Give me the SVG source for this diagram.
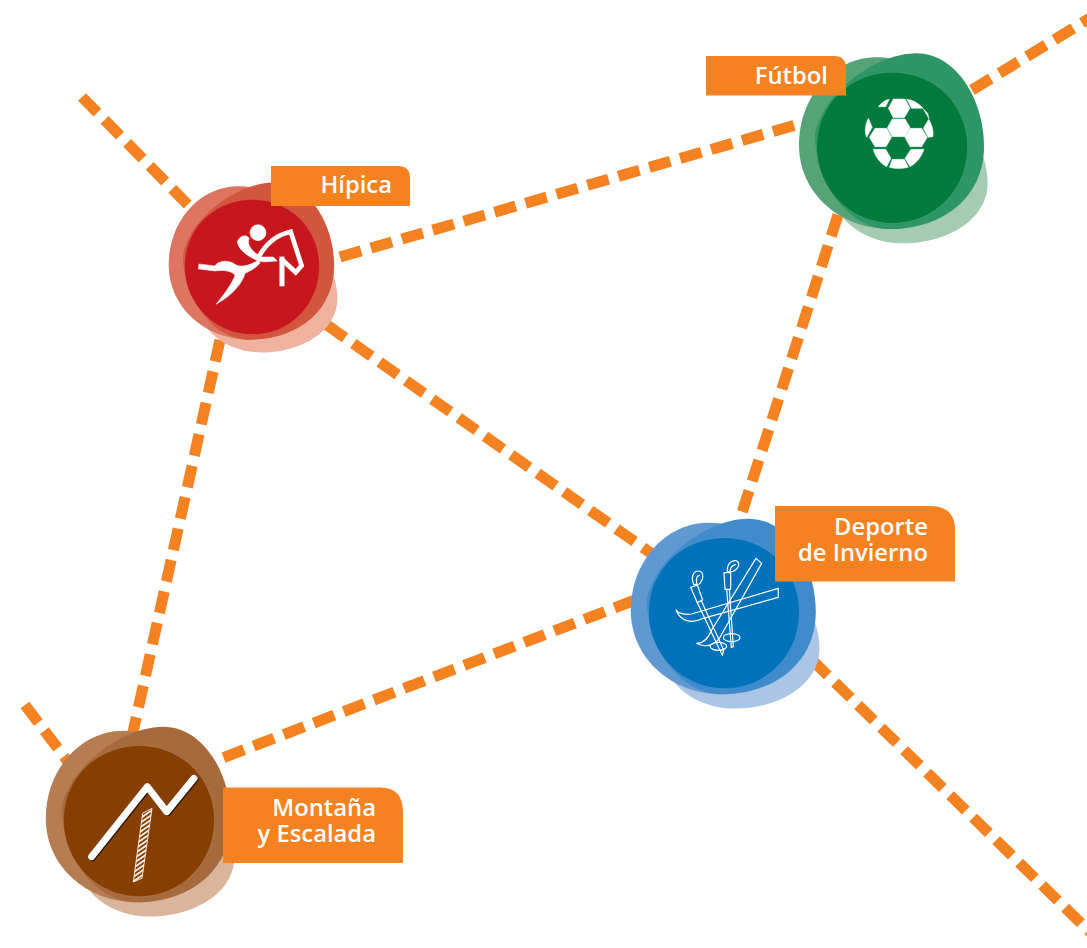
<svg xmlns="http://www.w3.org/2000/svg" width="1087" height="948" viewBox="0 0 1087 948">
<style>
.conn{stroke:#f58220;stroke-width:11;stroke-dasharray:22 10.200;fill:none}
.tag{fill:#f58220}
.lbl{font-family:"Open Sans","Noto Sans",sans-serif;font-weight:600;font-size:23.8px;fill:#fff;text-anchor:end}
.edge{fill:none;stroke:#fff;stroke-opacity:.22;stroke-width:1.5}
.ln{fill:none;stroke:#fff;stroke-width:3.6;stroke-linejoin:round;stroke-linecap:round}
.w{fill:#fff;stroke:#fff;stroke-width:1.500}
</style>
<defs>
<path id="blobC" d="M350,320C350,195 450,97 578,97C720,97 863,290 863,430C863,540 740,610 610,610C540,610 480,585 440,545C390,490 350,400 350,320Z"/>
<path id="blobA" d="M297,315C297,170 400,52 530,52C680,52 850,170 850,320C850,470 700,567 570,567C420,567 297,460 297,315Z"/>
<path id="blobB" d="M345,285C360,170 520,40 650,40C765,40 852,175 852,320C852,470 730,567 570,567C440,567 345,420 345,285Z"/>
<path id="blobD" d="M350,320C350,195 450,97 578,97C705,97 803,195 803,322C803,447 705,550 578,550C450,550 350,445 350,320Z"/>
<pattern id="hatch" patternUnits="userSpaceOnUse" width="11" height="11" patternTransform="rotate(-35)">
<rect x="0" y="0" width="11" height="5" fill="#fff"/>
</pattern>
</defs>
<g id="connectors">
<line class="conn" x1="82" y1="97" x2="197" y2="214"/>
<line class="conn" x1="340" y1="257" x2="806" y2="122"/>
<line class="conn" x1="327" y1="325" x2="655" y2="556"/>
<line class="conn" x1="220" y1="340" x2="133" y2="732"/>
<line class="conn" x1="838" y1="215" x2="738" y2="525"/>
<line class="conn" x1="972" y1="90" x2="1095" y2="15"/>
<line class="conn" x1="635" y1="600" x2="212" y2="762"/>
<line class="conn" x1="812" y1="660" x2="1090" y2="932"/>
<line class="conn" x1="25" y1="705" x2="72" y2="767"/>
</g>
<g id="hipica">
<g transform="translate(80.2 170.7) scale(.298)">
<use href="#blobC" fill="#efb29e"/><use href="#blobA" fill="#dd7560"/><use href="#blobB" fill="#d2553d"/><use href="#blobD" fill="#c8161d"/><use href="#blobD" class="edge"/>
</g>
<g transform="translate(190 215) scale(.3333)">
<circle class="w" cx="204" cy="53" r="24"/>
<path class="w" d="M142,80C150,60 170,58 178,70C168,88 188,112 215,126L250,126L262,138C235,140 215,142 205,138C175,125 145,105 142,80Z"/>
<path class="w" d="M27,147L75,153C85,135 120,135 135,148C150,160 185,150 205,135L210,145C190,165 175,170 165,175C160,200 130,240 78,268C105,235 130,200 135,180C120,165 95,165 75,168L25,162Z"/>
<path d="M205,128C225,90 255,60 302,50L335,152L317,172L272,130" fill="none" stroke="#fff" stroke-width="14"/>
<path d="M276,125V214" fill="none" stroke="#fff" stroke-width="15"/>
</g>
<path class="tag" d="M271,166H398Q410,166 410,178V206H271Z"/>
<text class="lbl" x="392" y="193">Hípica</text>
</g>
<g id="futbol">
<g transform="translate(700 40) scale(.3333)">
<use href="#blobC" fill="#a5ccb2"/><use href="#blobA" fill="#57a378"/><use href="#blobB" fill="#2e9665"/><use href="#blobD" fill="#007a3d"/><use href="#blobD" class="edge"/>
</g>
<g transform="translate(855 90) scale(.3333)" class="w">
<polygon points="115,27 150,27 165,55 148,83 115,83 100,55"/>
<polygon points="112,87 150,87 165,112 150,140 112,140 97,113"/>
<polygon points="60,115 95,115 110,142 93,170 60,170 43,142"/>
<polygon points="165,115 200,115 217,142 200,170 165,170 150,142"/>
<path d="M55,178H92L108,205L95,230C75,220 60,200 55,178Z"/>
<path d="M168,178H207C200,200 185,220 165,230L150,205Z"/>
<path d="M112,208H148L160,232C140,237 120,237 103,232Z"/>
<path d="M40,85L52,112L35,142C28,125 30,105 40,85Z"/>
<path d="M221,88L205,115L220,142L234,140C236,120 230,102 221,88Z"/>
<path d="M70,50H92L103,28C90,30 80,38 70,50Z"/>
<path d="M155,28L170,55H205C190,40 175,30 155,28Z"/>
<path d="M205,57L222,86L218,70Z"/>
</g>
<path class="tag" d="M706,56H834Q846,56 846,68V95.500H706Z"/>
<text class="lbl" x="828" y="84">Fútbol</text>
</g>
<g id="deporte">
<g transform="translate(531.8 505.3) scale(.3333)">
<use href="#blobC" fill="#abc5e6"/><use href="#blobA" fill="#6099d2"/><use href="#blobB" fill="#3f8bcb"/><use href="#blobD" fill="#0072bc"/><use href="#blobD" class="edge"/>
</g>
<g transform="translate(670 550) scale(.3333)">
<path class="ln" d="M18,180C25,190 45,195 65,192L325,115L325,142L100,205C60,225 30,210 18,180Z"/>
<path class="ln" d="M258,25L275,40L150,262C135,285 105,295 80,280C100,280 115,265 125,240Z"/>
<path class="ln" d="M72,104C62,85 68,63 85,63C100,63 104,85 88,102Z"/>
<path class="ln" d="M80,100C78,88 80,78 88,76"/>
<path class="ln" d="M172,66C170,45 182,30 197,32C212,35 208,55 190,64Z"/>
<path class="ln" d="M180,62C182,52 188,46 196,44"/>
<path class="ln" d="M62,112L82,105L98,150L82,158Z"/>
<path class="ln" d="M162,68H182V118H165Z"/>
<path class="ln" d="M82,158L157,316L161,300L94,152"/>
<path class="ln" d="M170,118L184,292L190,290L178,118"/>
<ellipse class="ln" cx="145" cy="289" rx="25" ry="12"/>
<ellipse class="ln" cx="185" cy="263" rx="25" ry="12"/>
</g>
<path class="tag" d="M775,506H930Q955,506 955,530V581.500H775Z"/>
<text class="lbl" x="928" y="535">Deporte</text>
<text class="lbl" x="928" y="561">de Invierno</text>
</g>
<g id="montana">
<g transform="translate(-53.2 713.3) scale(.3333)">
<use href="#blobC" fill="#d8b59b"/><use href="#blobA" fill="#b67d52"/><use href="#blobB" fill="#a76a3d"/><use href="#blobD" fill="#873f00"/><use href="#blobD" class="edge"/>
</g>
<g transform="translate(80 770) scale(.3333)">
<path d="M38,263L205,53L263,128L345,28" fill="none" stroke="#2b1608" stroke-width="21" stroke-linecap="round" stroke-linejoin="round"/>
<path d="M35,260L202,50L260,125L342,25" fill="none" stroke="#fff" stroke-width="21" stroke-linecap="round" stroke-linejoin="round"/>
<path d="M188,130L216,115L186,325L160,336Z" fill="url(#hatch)" stroke="#fff" stroke-width="2.500"/>
</g>
<path class="tag" d="M223,787.500H380Q403,787.500 403,812V863H223Z"/>
<text class="lbl" x="376" y="816">Montaña</text>
<text class="lbl" x="376" y="842">y Escalada</text>
</g>
</svg>
